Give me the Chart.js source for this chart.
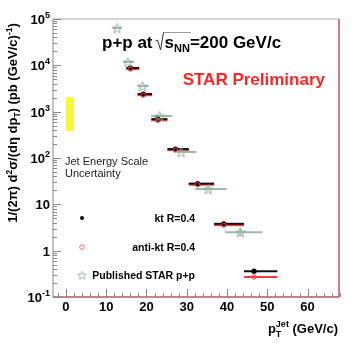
<!DOCTYPE html>
<html>
<head>
<meta charset="utf-8">
<script src="https://cdn.jsdelivr.net/npm/chart.js@4/dist/chart.umd.min.js"></script>
<style>
  html, body { margin: 0; padding: 0; background: #fff; }
  canvas { display: block; }
</style>
</head>
<body>
<canvas id="jetChart" width="356" height="348" style="width:356px;height:348px"></canvas>
<script>
// kt R=0.4 (black)
const ktX = [16.0, 19.2, 22.8, 27.2, 32.7, 39.2, 46.7];
const ktLo = [15.0, 17.8, 21.2, 25.2, 30.5, 36.8, 44.2];
const ktHi = [18.2, 21.4, 25.2, 30.5, 36.8, 44.2, 52.5];
const ktY = [8800, 2400, 690, 156, 28, 3.8, 0.36];

// anti-kt R=0.4 (red)
const antiX = [16.0, 19.2, 22.8, 27.2, 32.7, 39.2, 46.7];
const antiY = [8300, 2270, 650, 148, 26.5, 3.55, 0.27];

// published STAR p+p
const pubX = [12.7, 15.4, 19.0, 23.3, 28.6, 35.3, 43.3];
const pubLo = [11.6, 14.2, 17.8, 21.2, 27.7, 32.1, 39.5];
const pubHi = [13.8, 16.9, 20.6, 26.4, 32.4, 39.9, 48.8];
const pubY = [64000, 11800, 3550, 805, 135, 21.4, 2.5];
const pubYLo = [64000, 11800, 3550, 780, 128, 19.5, 2.1];
const pubYHi = [64000, 11800, 3550, 830, 142, 23.5, 3.0];

// jet energy scale band
const jesX = [0, 2];
const jesY = [380, 2050];

const xTicks = [0, 10, 20, 30, 40, 50, 60];
const yDecades = [-1, 0, 1, 2, 3, 4, 5];

const FONT = '"Liberation Sans", Arial, Helvetica, sans-serif';
const STAR_GREEN = '#8fab9a';

function makeStar(color, R, r) {
    const size = Math.ceil(R * 2 + 2);
    const c = document.createElement('canvas');
    c.width = size; c.height = size;
    const g = c.getContext('2d');
    g.strokeStyle = color;
    g.lineWidth = 1;
    g.beginPath();
    for (let i = 0; i < 10; i++) {
        const rr = i % 2 === 0 ? R : r;
        const a = -Math.PI / 2 + i * Math.PI / 5;
        const px = size / 2 + rr * Math.cos(a), py = size / 2 + 0.6 + rr * Math.sin(a);
        if (i === 0) g.moveTo(px, py); else g.lineTo(px, py);
    }
    g.closePath();
    g.stroke();
    return c;
}
const starImg = makeStar(STAR_GREEN, 5.2, 2.2);
const legendStar = makeStar('#9fb5a8', 4.5, 1.9);

// draw text made of pieces: [text, size, dy, noAdvance]
function rich(ctx, parts, x, y, align) {
    let w = 0;
    parts.forEach(p => {
        ctx.font = 'bold ' + p[1] + 'px ' + FONT;
        p.w = ctx.measureText(p[0]).width;
        if (!p[3]) w += p.w;
    });
    let cx = align === 'right' ? x - w : (align === 'center' ? x - w / 2 : x);
    ctx.textAlign = 'left';
    parts.forEach(p => {
        ctx.font = 'bold ' + p[1] + 'px ' + FONT;
        ctx.fillText(p[0], cx, y + p[2]);
        if (!p[3]) cx += p.w;
    });
    return cx;
}

const errorBars = {
    id: 'errorBars',
    beforeDatasetsDraw(chart) {
        const ctx = chart.ctx;
        const xs = chart.scales.x, ys = chart.scales.y;
        // jes band
        ctx.save();
        ctx.fillStyle = '#f7f73a';
        const bx0 = xs.getPixelForValue(jesX[0]), bx1 = xs.getPixelForValue(jesX[1]);
        const by0 = ys.getPixelForValue(jesY[1]), by1 = ys.getPixelForValue(jesY[0]);
        ctx.fillRect(bx0, by0, bx1 - bx0, by1 - by0);

        chart.data.datasets.forEach(ds => {
            if (!ds.xLo) return;
            ctx.strokeStyle = ds.barColor;
            ctx.lineWidth = 2;
            ds.data.forEach((pt, i) => {
                const py = ys.getPixelForValue(pt.y);
                ctx.beginPath();
                ctx.moveTo(xs.getPixelForValue(ds.xLo[i]), py);
                ctx.lineTo(xs.getPixelForValue(ds.xHi[i]), py);
                ctx.stroke();
                if (ds.yLo) {
                    const px = xs.getPixelForValue(pt.x);
                    ctx.beginPath();
                    ctx.moveTo(px, ys.getPixelForValue(ds.yLo[i]));
                    ctx.lineTo(px, ys.getPixelForValue(ds.yHi[i]));
                    ctx.stroke();
                }
            });
        });
        ctx.restore();
    }
};

const frame = {
    id: 'frame',
    afterDraw(chart) {
        const ctx = chart.ctx;
        const a = chart.chartArea;
        const xs = chart.scales.x, ys = chart.scales.y;
        ctx.save();
        ctx.lineWidth = 1.2;
        ctx.strokeStyle = '#aaaaaa';
        ctx.beginPath(); ctx.moveTo(a.left, a.top); ctx.lineTo(a.right, a.top); ctx.stroke();
        ctx.strokeStyle = '#999999';
        ctx.beginPath(); ctx.moveTo(a.left, a.top); ctx.lineTo(a.left, a.bottom); ctx.stroke();
        ctx.strokeStyle = '#b45a5a';
        ctx.lineWidth = 1.5;
        ctx.beginPath(); ctx.moveTo(a.right, a.top); ctx.lineTo(a.right, a.bottom); ctx.stroke();
        ctx.beginPath(); ctx.moveTo(a.left, a.bottom); ctx.lineTo(a.right, a.bottom); ctx.stroke();

        // y ticks
        ctx.lineWidth = 1;
        ctx.strokeStyle = '#888888';
        yDecades.forEach(d => {
            for (let m = 1; m <= 9; m++) {
                const v = m * Math.pow(10, d);
                if (v > 1e5) break;
                const py = Math.round(ys.getPixelForValue(v)) + 0.5;
                const len = m === 1 ? 8 : 4;
                ctx.beginPath(); ctx.moveTo(a.left, py); ctx.lineTo(a.left + len, py); ctx.stroke();
            }
        });
        // x ticks
        for (let v = -2; v <= 68; v += 2) {
            const px = Math.round(xs.getPixelForValue(v)) + 0.5;
            const len = v % 10 === 0 ? 8 : 4;
            ctx.beginPath(); ctx.moveTo(px, a.bottom); ctx.lineTo(px, a.bottom - len); ctx.stroke();
        }

        ctx.fillStyle = '#000';
        ctx.textBaseline = 'alphabetic';
        // y labels
        yDecades.forEach(d => {
            const py = ys.getPixelForValue(Math.pow(10, d)) + 5;
            if (d === 0) rich(ctx, [['1', 13, 0]], a.left - 3, py, 'right');
            else if (d === 1) rich(ctx, [['10', 13, 0]], a.left - 3, py, 'right');
            else rich(ctx, [['10', 13, 0], [String(d), 9, -6]], a.left - 3, py, 'right');
        });
        // x labels
        xTicks.forEach(v => {
            rich(ctx, [[String(v), 13, 0]], xs.getPixelForValue(v), a.bottom + 14, 'center');
        });

        // x title
        rich(ctx, [['p', 13, 0], ['T', 9, 4, true], ['Jet', 9, -6], [' (GeV/c)', 13, 0]], 338, 333, 'right');

        // y title
        ctx.save();
        ctx.translate(17, 123);
        ctx.rotate(-Math.PI / 2);
        rich(ctx, [['1/(2', 13, 0], ['\u03c0', 13, 0], [') d', 13, 0], ['2', 8.5, -5], ['\u03c3/(d', 13, 0],
                   ['\u03b7', 13, 0], [' dp', 13, 0], ['T', 8.5, 3], [') (pb (GeV/c)', 13, 0], ['-1', 8.5, -5], [')', 13, 0]],
             0, 0, 'center');
        ctx.restore();

        // header
        let cx = rich(ctx, [['p+p at', 17, 0]], 102, 48, 'left');
        const rx = cx + 3;
        ctx.strokeStyle = '#333';
        ctx.lineWidth = 1;
        ctx.beginPath();
        ctx.moveTo(rx, 41); ctx.lineTo(rx + 2, 40); ctx.lineTo(rx + 5, 50); ctx.lineTo(rx + 8, 32);
        ctx.stroke();
        const sEnd = rich(ctx, [['s', 17, 0], ['NN', 11, 4]], rx + 9, 48, 'left');
        ctx.strokeStyle = '#999';
        ctx.beginPath(); ctx.moveTo(rx + 8, 32.5); ctx.lineTo(sEnd + 1, 32.5); ctx.stroke();
        rich(ctx, [['=200 GeV/c', 17, 0]], sEnd, 48, 'left');

        ctx.fillStyle = '#ff2626';
        rich(ctx, [['STAR Preliminary', 17, 0]], 325, 85, 'right');

        ctx.fillStyle = '#222';
        ctx.font = '11px ' + FONT;
        ctx.textAlign = 'left';
        ctx.fillText('Jet Energy Scale', 65, 165);
        ctx.fillText('Uncertainty', 65, 177);

        // legend
        ctx.fillStyle = '#000';
        rich(ctx, [['kt R=0.4', 10.5, 0]], 195, 222, 'right');
        rich(ctx, [['anti-kt R=0.4', 10.5, 0]], 195, 251, 'right');
        rich(ctx, [['Published STAR p+p', 10.5, 0]], 195, 279, 'right');
        ctx.beginPath(); ctx.arc(82, 218, 2, 0, Math.PI * 2); ctx.fill();
        ctx.strokeStyle = '#ff6a6a';
        ctx.lineWidth = 1;
        ctx.beginPath(); ctx.arc(82, 247, 2.3, 0, Math.PI * 2); ctx.stroke();
        ctx.drawImage(legendStar, 82 - legendStar.width / 2, 275 - legendStar.height / 2);
        ctx.restore();
    }
};

const toPoints = (xs, ys) => xs.map((x, i) => ({x: x, y: ys[i]}));

new Chart(document.getElementById('jetChart'), {
    type: 'scatter',
    data: {
        datasets: [
            {
                label: 'Published STAR p+p',
                data: toPoints(pubX, pubY),
                xLo: pubLo, xHi: pubHi, yLo: pubYLo, yHi: pubYHi,
                barColor: '#a3b8aa',
                pointStyle: starImg,
                pointRadius: 5
            },
            {
                label: 'anti-kt R=0.4',
                data: toPoints(antiX, antiY),
                xLo: ktLo, xHi: ktHi,
                barColor: '#ff3a3a',
                pointStyle: 'circle',
                pointRadius: 2.2,
                borderColor: '#ff3a3a',
                backgroundColor: 'rgba(255,255,255,0)',
                borderWidth: 1
            },
            {
                label: 'kt R=0.4',
                data: toPoints(ktX, ktY),
                xLo: ktLo, xHi: ktHi,
                barColor: '#111111',
                pointStyle: 'circle',
                pointRadius: 2.6,
                borderColor: '#000',
                backgroundColor: '#000',
                borderWidth: 0
            }
        ]
    },
    options: {
        responsive: false,
        animation: false,
        devicePixelRatio: 1,
        layout: { padding: { left: 53, top: 19, right: 17, bottom: 51 } },
        plugins: { legend: { display: false }, tooltip: { enabled: false } },
        scales: {
            x: { type: 'linear', min: -3.2, max: 67.8, display: false },
            y: { type: 'logarithmic', min: 0.1, max: 100000, display: false }
        }
    },
    plugins: [errorBars, frame]
});
</script>
</body>
</html>
